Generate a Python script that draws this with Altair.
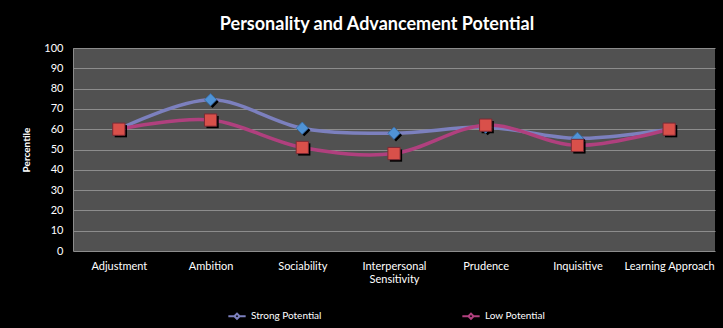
import altair as alt
import pandas as pd

categories = ["Adjustment", "Ambition", "Sociability", "Interpersonal Sensitivity",
              "Prudence", "Inquisitive", "Learning Approach"]
strong = [60, 74.5, 60.5, 58, 61, 55.5, 60]
low = [60, 64.5, 51, 48, 62, 52, 60]
series_names = ["Strong Potential", "Low Potential"]

rows = []
for s, vals in zip(series_names, [strong, low]):
    for c, v in zip(categories, vals):
        rows.append({"category": c, "value": v, "series": s})
df = pd.DataFrame(rows)

FONT = "Lato"
x = alt.X("category:N", sort=categories,
          scale=alt.Scale(type="point", padding=0.5),
          axis=alt.Axis(title=None, labelAngle=0, labelColor="#ffffff", labelFontSize=11,
                        labelFont=FONT, labelPadding=9, ticks=False, domain=False, grid=False,
                        labelExpr="datum.label == 'Interpersonal Sensitivity' ? ['Interpersonal','Sensitivity'] : datum.label"))
y = alt.Y("value:Q", scale=alt.Scale(domain=[0, 100]),
          axis=alt.Axis(title="Percentile", values=list(range(0, 101, 10)), labelColor="#ffffff",
                        labelFontSize=11, labelFont=FONT, labelPadding=10, ticks=False,
                        domain=True, domainColor="#8c8c8c", grid=True, gridColor="#8c8c8c",
                        gridWidth=1, titleColor="#ffffff", titleFont=FONT, titleFontSize=10,
                        titleFontWeight="bold", titlePadding=12))

color = alt.Color("series:N", sort=series_names,
                  scale=alt.Scale(domain=series_names, range=["#7c80be", "#b0407e"]),
                  legend=alt.Legend(title=None, orient="none", direction="horizontal",
                                    legendX=154, legendY=258, columnPadding=136,
                                    labelColor="#ffffff", labelFont=FONT, labelFontSize=10,
                                    symbolType="M-1,0H-0.3L0,-0.3L0.3,0L0,0.3L-0.3,0M0.3,0H1",
                                    symbolSize=300, symbolStrokeWidth=2))
shape = alt.Shape("series:N", sort=series_names,
                  scale=alt.Scale(domain=series_names, range=["diamond", "square"]),
                  legend=None)

base = alt.Chart(df)

lines = base.mark_line(interpolate="cardinal", strokeWidth=3.5).encode(
    x=x, y=y, color=color, order=alt.Order("series:N", sort="descending"))

shadow = base.mark_point(filled=True, size=150, xOffset=2, yOffset=2, opacity=1).encode(
    x=x, y=y, shape=shape, color=alt.value("#000000"))

pts = base.mark_point(filled=True, size=150, opacity=1, strokeWidth=1).encode(
    x=x, y=y, shape=shape,
    fill=alt.Fill("series:N", sort=series_names,
                  scale=alt.Scale(domain=series_names, range=["#4f93d6", "#d9504a"]), legend=None),
    stroke=alt.Stroke("series:N", sort=series_names,
                      scale=alt.Scale(domain=series_names, range=["#3b6fa8", "#7a2a35"]), legend=None))

chart = alt.layer(lines, shadow, pts).properties(
    width=642, height=203,
    background="#000000",
    padding={"left": 73, "top": 48, "right": 8, "bottom": 77},
    autosize=alt.AutoSizeParams(type="none"),
    title=alt.Title("Personality and Advancement Potential", color="#ffffff", font=FONT,
                    fontSize=18, fontWeight="bold", anchor="middle", offset=8, dx=-17),
).configure_view(fill="#515151", stroke=None).resolve_scale(color="independent")

chart.save("out.html", embed_options={"renderer": "svg", "actions": False})
